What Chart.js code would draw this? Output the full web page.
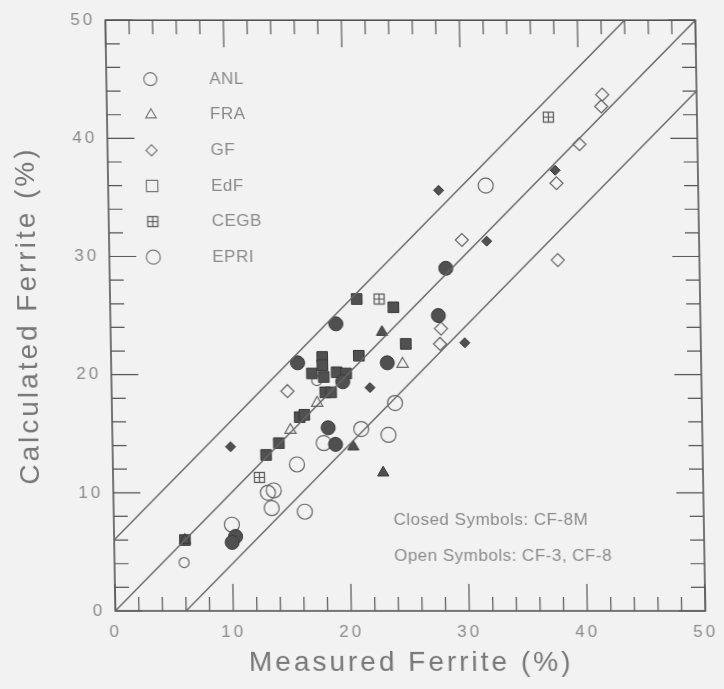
<!DOCTYPE html>
<html>
<head>
<meta charset="utf-8">
<script src="https://cdn.jsdelivr.net/npm/chart.js@4.4.1/dist/chart.umd.min.js"></script>
<style>
  html, body { margin: 0; padding: 0; background: #f2f2f2; overflow: hidden; }
  /* the scanned figure leans a little: bottom edge sits ~10px right of the top */
  #chart { display: block; transform: skewX(0.97deg); transform-origin: 0 0; }
</style>
</head>
<body>
<canvas id="chart" width="724" height="689"></canvas>
<script>
const labs = ['ANL', 'FRA', 'GF', 'EdF', 'CEGB', 'EPRI']

// open symbols (CF-3, CF-8): [measured, calculated] ferrite %
const anlOpen = [[32.0, 36.0], [24.0, 17.6], [21.1, 15.4], [23.4, 14.9], [17.9, 14.2], [15.6, 12.4],
                 [13.1, 10.0], [13.6, 10.2], [13.4, 8.7], [16.2, 8.4], [10.0, 7.3]]
const fraOpen = [[24.7, 20.9], [17.4, 17.6], [15.1, 15.3]]
const gfOpen = [[42.0, 43.7], [41.9, 42.7], [40.0, 39.5], [38.0, 36.2], [29.9, 31.4], [38.0, 29.7],
                [28.0, 23.9], [27.9, 22.6], [14.9, 18.6]]
const edfOpen = []
const cegbOpen = [[37.4, 41.8], [22.8, 26.4], [12.4, 11.3]]
const epriOpen = [[5.9, 4.1], [17.4, 19.5]]

// closed symbols (CF-8M)
const anlClosed = [[28.5, 29.0], [27.8, 25.0], [19.1, 24.3], [15.8, 21.0], [23.4, 21.0], [18.3, 15.5],
                   [18.9, 14.1], [10.3, 6.3], [10.0, 5.8], [19.6, 19.4]]
const fraClosed = [[23.0, 23.6], [20.4, 13.9], [22.9, 11.7], [6.0, 6.0]]
const gfClosed = [[37.9, 37.3], [28.0, 35.6], [32.0, 31.3], [30.0, 22.7], [21.9, 18.9], [10.0, 13.9]]
const edfClosed = [[20.9, 26.4], [24.0, 25.7], [25.0, 22.6], [21.0, 21.6], [17.0, 20.1], [17.9, 21.5],
                   [17.9, 20.8], [18.0, 19.8], [19.1, 20.2], [19.9, 20.1], [18.1, 18.5], [18.6, 18.5],
                   [15.9, 16.4], [16.3, 16.6], [14.1, 14.2], [13.0, 13.2], [6.0, 6.0]]
const cegbClosed = []
const epriClosed = []

// 1:1 line and the +/-6 % band
const upperX = [0, 44], upperY = [6, 50]
const parityX = [0, 50], parityY = [0, 50]
const lowerX = [6, 50], lowerY = [0, 44]

const axisTicks = [0, 10, 20, 30, 40, 50]
const notes = ['Closed Symbols: CF-8M', 'Open Symbols: CF-3, CF-8']

const ink = '#505050'
const grey = '#8a8a8a'
const family = '"Liberation Sans", Arial, sans-serif'

// square with a cross in it for CEGB
const cegbMark = document.createElement('canvas')
cegbMark.width = 13
cegbMark.height = 13
{
  const c = cegbMark.getContext('2d')
  c.strokeStyle = '#555'
  c.lineWidth = 1.2
  c.strokeRect(1.5, 1.5, 10, 10)
  c.beginPath()
  c.moveTo(6.5, 1.5); c.lineTo(6.5, 11.5)
  c.moveTo(1.5, 6.5); c.lineTo(11.5, 6.5)
  c.stroke()
}

const labStyle = {
  ANL: { style: 'circle', open: 7.5, closed: 7, legend: 6.5 },
  FRA: { style: 'triangle', open: 6.5, closed: 6.5, legend: 6 },
  GF: { style: 'rectRot', open: 6.5, closed: 5, legend: 5.5 },
  EdF: { style: 'rect', open: 7.5, closed: 7.5, legend: 8 },
  CEGB: { style: cegbMark, open: 7, closed: 7, legend: 7 },
  EPRI: { style: 'circle', open: 5, closed: 5, legend: 7 }
}

const openData = { ANL: anlOpen, FRA: fraOpen, GF: gfOpen, EdF: edfOpen, CEGB: cegbOpen, EPRI: epriOpen }
const closedData = { ANL: anlClosed, FRA: fraClosed, GF: gfClosed, EdF: edfClosed, CEGB: cegbClosed, EPRI: epriClosed }

const toPts = arr => arr.map(([x, y]) => ({ x, y }))
const zipPts = (xs, ys) => xs.map((x, i) => ({ x, y: ys[i] }))

const refLine = (xs, ys) => ({
  type: 'line',
  data: zipPts(xs, ys),
  showLine: true,
  borderColor: '#666',
  borderWidth: 1.4,
  pointRadius: 0,
  fill: false
})

const datasets = [
  refLine(upperX, upperY),
  refLine(parityX, parityY),
  refLine(lowerX, lowerY)
]

labs.forEach(lab => {
  const s = labStyle[lab]
  datasets.push({
    label: lab + ' CF-8M',
    data: toPts(closedData[lab]),
    pointStyle: s.style,
    pointRadius: s.closed,
    backgroundColor: ink,
    borderColor: '#383838',
    borderWidth: 1
  })
  datasets.push({
    label: lab,
    data: toPts(openData[lab]),
    pointStyle: s.style,
    pointRadius: s.open,
    backgroundColor: 'rgba(0,0,0,0)',
    borderColor: '#666',
    borderWidth: 1.2
  })
})

const paper = {
  id: 'paper',
  beforeDraw(chart) {
    const ctx = chart.ctx
    ctx.save()
    ctx.fillStyle = '#f2f2f2'
    ctx.fillRect(0, 0, chart.width, chart.height)
    ctx.restore()
    ctx.letterSpacing = '3px'
  }
}

// frame with inward ticks on all four sides
const frameTicks = {
  id: 'frameTicks',
  beforeDatasetsDraw(chart) {
    const { ctx, chartArea: a, scales: { x, y } } = chart
    ctx.save()
    ctx.strokeStyle = '#555'
    ctx.lineWidth = 1.6
    ctx.strokeRect(a.left, a.top, a.width, a.height)
    ctx.lineWidth = 1.2
    for (let v = 0; v <= 50; v += 2) {
      const len = v % 10 === 0 ? 27 : 14
      const px = x.getPixelForValue(v)
      const py = y.getPixelForValue(v)
      ctx.beginPath()
      ctx.moveTo(px, a.bottom); ctx.lineTo(px, a.bottom - len)
      ctx.moveTo(px, a.top); ctx.lineTo(px, a.top + len)
      ctx.moveTo(a.left, py); ctx.lineTo(a.left + len, py)
      ctx.moveTo(a.right, py); ctx.lineTo(a.right - len, py)
      ctx.stroke()
    }
    ctx.restore()
  }
}

const labLegend = {
  id: 'labLegend',
  afterDatasetsDraw(chart) {
    const { ctx, chartArea: a, scales: { x, y } } = chart
    ctx.save()
    ctx.letterSpacing = '0.5px'
    ctx.textBaseline = 'middle'
    labs.forEach((lab, i) => {
      const s = labStyle[lab]
      const cy = a.top + 59 + i * 35.6
      ctx.fillStyle = 'rgba(0,0,0,0)'
      ctx.strokeStyle = '#777'
      ctx.lineWidth = 1.2
      Chart.helpers.drawPoint(ctx, { pointStyle: s.style, radius: s.legend, rotation: 0, borderWidth: 1.2 }, a.left + 44, cy)
      ctx.fillStyle = grey
      ctx.font = '17px ' + family
      ctx.fillText(lab, a.left + 103, cy)
    })
    ctx.font = '17px ' + family
    ctx.fillStyle = grey
    ctx.fillText(notes[0], x.getPixelForValue(23.7), y.getPixelForValue(7.7))
    ctx.fillText(notes[1], x.getPixelForValue(23.7), y.getPixelForValue(4.6))
    ctx.restore()
  }
}

new Chart(document.getElementById('chart'), {
  type: 'scatter',
  data: { datasets },
  plugins: [paper, frameTicks, labLegend],
  options: {
    responsive: false,
    animation: false,
    devicePixelRatio: 1,
    layout: { padding: { top: 19, right: 29, bottom: 0, left: 0 } },
    plugins: {
      legend: { display: false },
      tooltip: { enabled: false }
    },
    scales: {
      x: {
        type: 'linear',
        min: 0,
        max: 50,
        afterBuildTicks: s => { s.ticks = axisTicks.map(v => ({ value: v })) },
        afterFit: s => { s.height = 78 },
        grid: { display: false, drawTicks: false },
        border: { display: false },
        ticks: { color: grey, font: { family, size: 17 }, padding: 11, maxRotation: 0 },
        title: {
          display: true,
          text: 'Measured Ferrite (%)',
          color: '#777',
          font: { family, size: 28 },
          padding: { top: 0, bottom: 9 }
        }
      },
      y: {
        type: 'linear',
        min: 0,
        max: 50,
        afterBuildTicks: s => { s.ticks = axisTicks.map(v => ({ value: v })) },
        afterFit: s => { s.width = 105 },
        grid: { display: false, drawTicks: false },
        border: { display: false },
        ticks: { color: grey, font: { family, size: 17 }, padding: 10 },
        title: {
          display: true,
          text: 'Calculated Ferrite (%)',
          color: '#777',
          font: { family, size: 28 },
          padding: { top: 6, bottom: 6 }
        }
      }
    }
  }
})
</script>
</body>
</html>
